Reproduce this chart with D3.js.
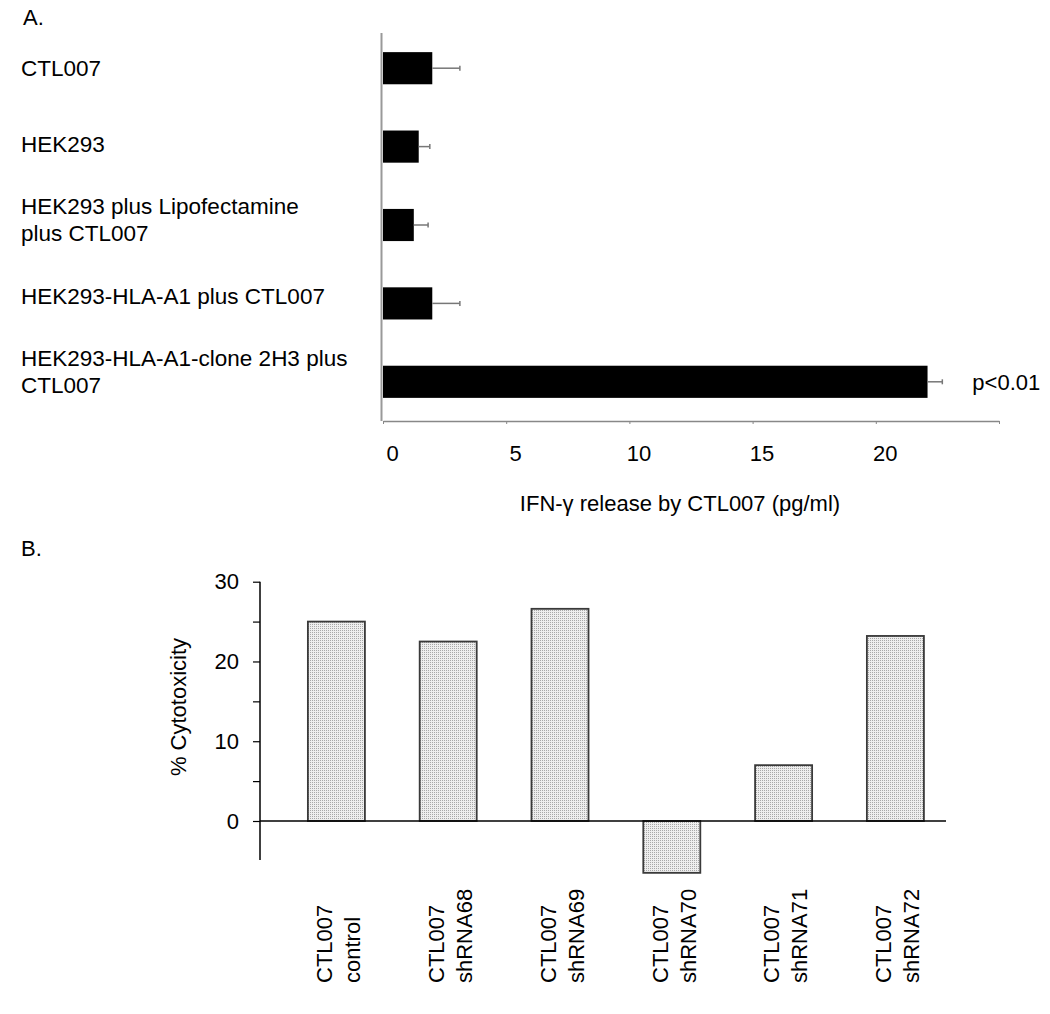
<!DOCTYPE html>
<meta charset="utf-8">
<script src="https://d3js.org/d3.v7.min.js"></script>
<style type="text/css">
body { margin: 0; background: #fff; }
text { font-family: Arial, "Liberation Sans", sans-serif; fill: #000; }
.barra-a { fill: #000; }
.erro { stroke: #777; stroke-width: 1.5; fill: none; }
.barra-b { fill: url(#pontilhado); stroke: #3a3a3a; stroke-width: 1.8; }
</style>
<body>
<div id="canvas"></div>
<script>
// painel A: IFN-gamma
var rotulosA = [
    ["CTL007"],
    ["HEK293"],
    ["HEK293 plus Lipofectamine", "plus CTL007"],
    ["HEK293-HLA-A1 plus CTL007"],
    ["HEK293-HLA-A1-clone 2H3 plus", "CTL007"]
];
var valoresIfn = [2.0, 1.45, 1.25, 2.0, 22.1];
var errosIfn = [1.12, 0.45, 0.58, 1.12, 0.6];
var ticksA = [0, 5, 10, 15, 20];

// painel B: citotoxicidade
var rotulosB = [
    ["CTL007", "control"],
    ["CTL007", "shRNA68"],
    ["CTL007", "shRNA69"],
    ["CTL007", "shRNA70"],
    ["CTL007", "shRNA71"],
    ["CTL007", "shRNA72"]
];
var valoresCito = [25.0, 22.5, 26.6, -6.5, 7.0, 23.2];
var ticksB = [0, 5, 10, 15, 20, 25, 30];

var width = 1050, height = 1014;
var svg = d3.select("#canvas").append("svg")
    .attr("width", width)
    .attr("height", height);

// padrao pontilhado das barras de B
var pat = svg.append("defs").append("pattern")
    .attr("id", "pontilhado")
    .attr("width", 2).attr("height", 2)
    .attr("patternUnits", "userSpaceOnUse");
pat.append("rect").attr("width", 2).attr("height", 2).attr("fill", "#eeeeee");
pat.append("rect").attr("width", 1).attr("height", 1).attr("fill", "#a8a8a8");

// ---------------- A ----------------
svg.append("text").attr("x", 23).attr("y", 17).attr("dy", "0.35em")
    .style("font-size", "22px").text("A.");

var xA = d3.scaleLinear().domain([0, 25]).range([383, 999]);
var yA = d3.scaleBand()
    .domain(d3.range(rotulosA.length))
    .range([29, 421])
    .paddingInner(0.59)
    .paddingOuter(0.295);

// eixo x
var eixoA = svg.append("g")
    .attr("transform", "translate(0,421)")
    .call(d3.axisBottom(xA).tickValues([0, 5, 10, 15, 20, 25]).tickSize(3).tickSizeOuter(0)
        .tickFormat(function(d) { return ticksA.indexOf(d) >= 0 ? d : ""; }));
eixoA.select(".domain").attr("stroke", "#888").attr("stroke-width", 1.5);
eixoA.selectAll(".tick line").attr("stroke", "#888");
eixoA.selectAll(".tick text")
    .attr("dx", 9).attr("y", 24)
    .style("font-size", "22px").style("font-family", "Arial, 'Liberation Sans', sans-serif")
    .attr("fill", "#000");

// eixo y (linha)
svg.append("line")
    .attr("x1", 381.5).attr("x2", 381.5)
    .attr("y1", 33).attr("y2", 421)
    .attr("stroke", "#999").attr("stroke-width", 2);

svg.selectAll(".barra-a")
    .data(valoresIfn)
    .enter().append("rect")
    .attr("class", "barra-a")
    .attr("x", xA(0))
    .attr("y", function(d, i) { return yA(i); })
    .attr("width", function(d) { return xA(d) - xA(0); })
    .attr("height", yA.bandwidth());

// barras de erro
valoresIfn.forEach(function(v, i) {
    var cy = yA(i) + yA.bandwidth() / 2;
    var x2 = xA(v + errosIfn[i]);
    svg.append("line").attr("class", "erro")
        .attr("x1", xA(v)).attr("x2", x2).attr("y1", cy).attr("y2", cy);
    svg.append("line").attr("class", "erro")
        .attr("x1", x2).attr("x2", x2).attr("y1", cy - 2.5).attr("y2", cy + 2.5);
});

// rotulos das categorias
rotulosA.forEach(function(linhas, i) {
    var cy = yA(i) + yA.bandwidth() / 2 - 2.5 * i;
    var t = svg.append("text")
        .attr("x", 21)
        .style("font-size", "22.5px");
    linhas.forEach(function(l, j) {
        t.append("tspan")
            .attr("x", 21)
            .attr("y", cy + (j - (linhas.length - 1) / 2) * 27)
            .attr("dy", "0.35em")
            .text(l);
    });
});

svg.append("text")
    .attr("x", xA(valoresIfn[4] + errosIfn[4]) + 30)
    .attr("y", yA(4) + yA.bandwidth() / 2)
    .attr("dy", "0.35em")
    .style("font-size", "22px")
    .text("p<0.01");

svg.append("text")
    .attr("x", 680).attr("y", 503).attr("dy", "0.35em")
    .attr("text-anchor", "middle")
    .style("font-size", "22px")
    .text("IFN-\u03b3 release by CTL007 (pg/ml)");

// ---------------- B ----------------
svg.append("text").attr("x", 21).attr("y", 548).attr("dy", "0.35em")
    .style("font-size", "22px").text("B.");

var yB = d3.scaleLinear().domain([0, 30]).range([821, 581.7]);
var xB = d3.scaleBand()
    .domain(d3.range(rotulosB.length))
    .range([280.5, 951.3])
    .paddingInner(0.49)
    .paddingOuter(0.245);

var eixoB = svg.append("g")
    .attr("transform", "translate(260,0)")
    .call(d3.axisLeft(yB).tickValues(ticksB).tickSize(7)
        .tickFormat(function(d) { return d % 10 === 0 ? d : ""; }));
eixoB.select(".domain").remove();
eixoB.selectAll(".tick line").attr("stroke", "#000").attr("stroke-width", 1.2);
eixoB.selectAll(".tick text")
    .attr("x", -21)
    .style("font-size", "22px").style("font-family", "Arial, 'Liberation Sans', sans-serif")
    .attr("fill", "#000");

svg.append("line")
    .attr("x1", 260).attr("x2", 260)
    .attr("y1", yB(30)).attr("y2", yB(-4.9))
    .attr("stroke", "#000").attr("stroke-width", 1.5);

svg.selectAll(".barra-b")
    .data(valoresCito)
    .enter().append("rect")
    .attr("class", "barra-b")
    .attr("x", function(d, i) { return xB(i); })
    .attr("y", function(d) { return yB(Math.max(0, d)); })
    .attr("width", xB.bandwidth())
    .attr("height", function(d) { return Math.abs(yB(d) - yB(0)); });

// linha do zero
svg.append("line")
    .attr("x1", 260).attr("x2", 946)
    .attr("y1", yB(0)).attr("y2", yB(0))
    .attr("stroke", "#000").attr("stroke-width", 1.5);

svg.append("text")
    .attr("transform", "translate(178,707) rotate(-90)")
    .attr("text-anchor", "middle")
    .attr("dy", "0.35em")
    .style("font-size", "22px")
    .text("% Cytotoxicity");

rotulosB.forEach(function(linhas, i) {
    var cx = xB(i) + xB.bandwidth() / 2;
    linhas.forEach(function(l, j) {
        svg.append("text")
            .attr("transform", "translate(" + (cx + (j === 0 ? -12 : 16)) + ",983) rotate(-90)")
            .attr("dy", "0.35em")
            .style("font-size", "22px")
            .text(l);
    });
});
</script>
</body>
